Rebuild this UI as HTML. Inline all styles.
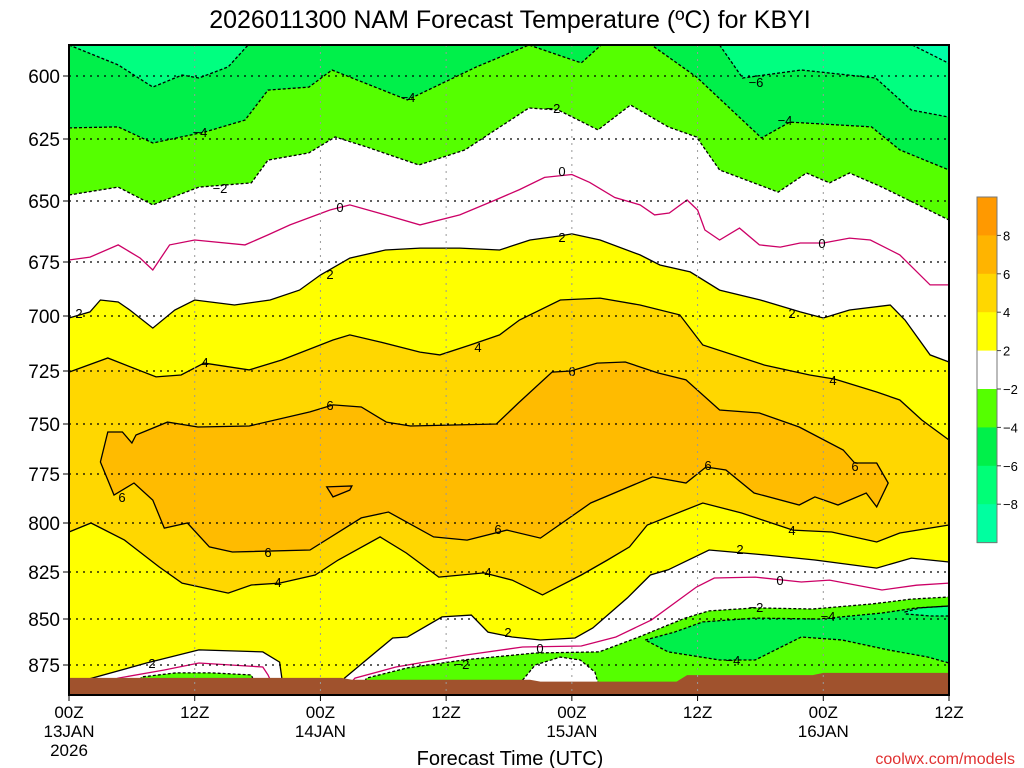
<!DOCTYPE html>
<html><head><meta charset="utf-8"><style>
html,body{margin:0;padding:0;background:#fff;}
svg{display:block;font-family:"Liberation Sans","DejaVu Sans",sans-serif;}
</style></head><body>
<svg id="chart" width="1024" height="768" viewBox="0 0 1024 768" xmlns="http://www.w3.org/2000/svg">
<text x="510" y="28" font-size="25" text-anchor="middle" fill="#000">2026011300 NAM Forecast Temperature (ºC) for KBYI</text>
<g id="plot"></g>
<g id="labels" font-size="13" text-anchor="middle"></g>
<g id="axes"></g>
<g id="legend"></g>
<text x="510" y="765" font-size="20" text-anchor="middle">Forecast Time (UTC)</text>
<text x="1015" y="764" font-size="16" text-anchor="end" fill="#e03030">coolwx.com/models</text>
</svg>
<script>
// axis calibration
const pTicks = [600,625,650,675,700,725,750,775,800,825,850,875];
const hTicks = [0,12,24,36,48,60,72,84];
const hTickLabels = [["00Z","13JAN","2026"],["12Z"],["00Z","14JAN"],["12Z"],["00Z","15JAN"],["12Z"],["00Z","16JAN"],["12Z"]];
// contour data: hours since 00Z 13JAN and pressure (hPa)
const cM8_h = [80.5,84];
const cM8_p = [586,595];
const cM6a_h = [0,4.7,8.0,10.8,12.4,15.2,17.1];
const cM6a_p = [587,595.6,604.4,599.6,600.8,596.4,587];
const cM6b_h = [62.1,64.3,69.9,77.0,80.4,84];
const cM6b_p = [587,600.8,597.6,600.8,613.5,616.3];
const cM4_h = [0,4.7,8.0,13.0,16.8,19.0,22.9,25.1,32.3,38.9,43.9,48.9,50.8,55.6,59.9,66.1,68.8,76.6,79.3,84];
const cM4_p = [620.6,620.2,626.6,622.2,617.5,605.6,604.4,597.6,609.5,596.4,586,594.8,586,586,600.4,624.6,618.3,620.2,629.4,637.5];
const cM2_h = [0,4.7,8.0,12.4,17.4,19.0,22.9,25.4,28.4,33.4,37.8,43.9,46.7,50.5,53.6,57.2,59.9,62.1,67.7,70.4,72.6,74.5,77.6,84];
const cM2_p = [647.6,644.4,651.6,644.4,642.7,633.5,630.6,624.2,628.2,635.5,629.4,612.7,613.5,621.4,611.5,620.2,624.2,637.5,646.4,638.7,642.7,638.7,644.4,657.8];
const c0_h = [0,2.0,4.7,6.8,8.0,9.6,12.0,16.8,19.0,21.1,24.9,26.8,30.2,33.5,37.3,40.7,43.0,45.4,48.0,49.7,52.1,54.5,55.9,57.3,59.0,60.0,60.7,62.1,64.0,65.9,67.9,69.8,72.0,74.5,76.5,79.3,82.2,84];
const c0_p = [674.2,673.0,668.0,673.4,678.7,668.0,666.0,668.0,663.9,659.8,653.7,651.6,655.7,659.8,655.7,649.6,645.4,640.5,639.3,642.5,648.6,651.6,655.7,654.9,649.6,653.7,661.9,666.0,661.1,668.0,668.9,667.2,667.2,665.2,666.0,672.1,685.6,685.6];
const c2_h = [0,2,3,4.7,5.8,8,10.1,12,15.8,19.2,22,24,26.8,30.2,33.5,37.3,41.1,44,46.9,48,50.7,54.5,56.4,59.3,62.1,66,69.8,72,74.5,78.4,79.8,82.2,84];
const c2_p = [700.9,698.1,692.6,693.5,697.2,705.5,697.2,692.6,694.9,692.6,688.0,681.0,673.4,670.1,669.3,669.3,670.1,666.0,664.3,663.5,666.0,672.1,676.4,679.6,688.0,692.6,698.1,700.9,697.2,694.9,701.8,717.7,720.9];
const c4_h = [0,3.7,8.3,10.7,12.9,17.2,20.3,25.2,26.8,29.7,33.5,35.4,38.3,41.1,43.0,46.9,50.7,54.5,58.3,60.5,66.4,70.7,73.1,77.1,79.3,81.4,84];
const c4_p = [725.5,719.1,727.8,726.9,721.4,724.5,720.0,710.9,708.6,711.8,716.4,717.7,713.2,708.6,701.8,692.6,691.7,694.9,699.5,713.2,722.3,726.9,728.8,734.9,738.7,748.1,758.0];
const c6_h = [3.0,3.7,5.1,6.0,6.4,9.4,12.3,17.2,23.0,25.2,27.9,30.3,32.6,40.8,42.9,46.1,47.9,50.4,53.1,56.2,58.9,62.1,65.9,69.7,73.9,75.0,77.1,78.2,77.1,76.1,73.4,71.2,69.7,65.4,62.7,60.8,58.9,55.7,49.8,45.0,41.8,38.0,34.8,30.5,27.9,23.0,15.6,13.4,11.3,9.1,8.0,6.2,4.3];
const c6_p = [769.0,754.0,754.0,759.5,755.5,749.1,751.5,751.0,744.3,741.0,742.0,749.1,751.0,750.0,740.1,725.5,725.0,721.4,720.9,725.9,729.2,743.4,744.8,751.5,763.0,769.5,769.5,779.6,791.8,784.7,790.8,786.7,790.8,784.7,773.0,771.5,779.6,776.5,789.8,807.7,803.6,808.7,807.1,794.4,797.4,813.8,814.8,812.2,800.0,802.6,788.3,779.6,785.7];
const c8_h = [24.6,27.0,26.8,25.2];
const c8_p = [781.6,781.1,783.2,786.7];
const c4L_h = [0,2.1,5.3,8.6,10.8,15.2,17.4,20.1,23.5,25.7,29.7,32.2,35.3,39.6,42.3,45.2,48.9,51.4,53.5,55.2,60.5,64.2,69.1,72.8,77.1,79.3,84];
const c4L_p = [804.6,800.0,808.7,822.4,830.9,836.2,831.9,830.9,826.6,818.9,807.1,815.3,827.7,825.5,829.3,837.2,826.6,818.9,812.2,801.0,789.8,794.9,803.6,804.6,809.7,805.1,801.0];
const c2L_h = [0,1.9,7.4,12.4,18.5,20.1,20.5,25.9,26.3,30.9,32.3,35.6,38.4,40.0,42.3,45.0,48.3,50.0,53.3,55.5,57.2,61.1,66.4,71.2,77.1,80.4,84];
const c2L_p = [889.7,882.6,873.9,866.8,867.9,873.4,889.7,889.7,882.1,860.3,859.8,848.9,847.9,857.1,859.8,861.4,860.3,854.9,838.8,826.6,823.9,813.8,816.3,818.9,823.0,817.9,819.9];
const c0La_h = [3.0,4.7,9.1,12.4,18.5,19.0,19.4];
const c0La_p = [885.3,882.1,877.7,873.9,876.1,880.4,885.3];
const c0Lb_h = [26.8,27.3,31.2,37.8,43.3,48.9,52.2,55.6,59.9,61.6,65.5,69.9,72.6,77.6,80.9,84];
const c0Lb_p = [885.3,882.1,876.1,869.6,865.2,864.7,859.8,850.5,833.0,828.2,827.7,830.3,829.3,834.6,832.0,830.9];
const cM2L_h = [27.8,28.4,32.3,37.8,44.5,50.6,54.4,58.8,61.1,65.5,71.0,76.6,80.4,84];
const cM2L_p = [888.6,882.1,876.6,872.2,868.5,867.9,859.8,849.5,845.7,844.1,844.7,842.0,839.4,838.3];
const cM2La_h = [6.6,6.9,10.2,13.6,17.4,18.0];
const cM2La_p = [888.6,881.5,879.3,879.3,880.4,888.6];
const cHump_h = [43.1,43.3,44.5,46.9,48.8,50.2,50.7];
const cHump_p = [888.6,883.2,875.0,870.7,872.3,878.8,888.6];
const cM4L_h = [55.0,57.8,60.5,65.5,71.6,77.6,80.9,84,84,82.0,78.2,73.8,69.9,65.5,62.1,57.2];
const cM4L_p = [861.4,857.1,851.6,849.5,850.0,846.8,844.1,843.1,873.9,870.7,866.8,861.4,859.8,872.3,872.3,867.9];
const cM6L_h = [79.8,81.2,84,84,82.2,79.8];
const cM6L_p = [846.3,844.1,843.1,848.4,848.4,847.3];
const sfc_h = [0,26,27,44,45,58,59,71,72,84];
const sfc_p = [882,882,883,883,884,884,880.5,880.5,879.3,879.3];
const legendLabels = ["8","6","4","2","\u22122","\u22124","\u22126","\u22128"];
const legendColors = ["#ff9900","#ffb400","#ffd700","#ffff00","#ffffff","#55ff00","#00f04a","#00ff77","#00ffa0"];

// layout
const L=69,R=949,T=45,B=695;
const yT = [76,139,201,262,316,371,424,474,523,572,619,665];
function X(h){return L + h*(R-L)/84;}
function Y(p){
  let i=0;
  if(p<=pTicks[0]) i=0; else if(p>=pTicks[pTicks.length-1]) i=pTicks.length-2;
  else { while(p>pTicks[i+1]) i++; }
  return yT[i] + (p-pTicks[i])*(yT[i+1]-yT[i])/(pTicks[i+1]-pTicks[i]);
}
const NS="http://www.w3.org/2000/svg";
const plot=document.getElementById('plot');
function el(tag,attrs,parent){const e=document.createElementNS(NS,tag);for(const k in attrs)e.setAttribute(k,attrs[k]);(parent||plot).appendChild(e);return e;}
function pts(hs,ps){return hs.map((h,i)=>[X(h),Math.min(Math.max(Y(ps[i]),T),B)]);}
function str(a){return a.map(q=>q[0].toFixed(1)+','+q[1].toFixed(1)).join(' ');}
function fillAbove(hs,ps,color,name){
  const a=pts(hs,ps); a.push([a[a.length-1][0],T]); a.push([a[0][0],T]);
  const e=el('polygon',{points:str(a),fill:color});
  
  
}
function fillBelow(hs,ps,color,name){
  const a=pts(hs,ps); a.push([a[a.length-1][0],B]); a.push([a[0][0],B]);
  const e=el('polygon',{points:str(a),fill:color});
  
  
}
function fillClosed(hs,ps,color,name){
  const e=el('polygon',{points:str(pts(hs,ps)),fill:color});
  
  
}
function line(hs,ps,color,dash,name,closed){
  const e=el(closed?'polygon':'polyline',{points:str(pts(hs,ps)),fill:'none',stroke:color,'stroke-width':1.3});
  if(dash) e.setAttribute('stroke-dasharray','3,2');
  
  
}
// base
const bg=el('rect',{x:L,y:T,width:R-L,height:B-T,fill:'#ffff00'});


// gold band between upper 4 and lower 4
{const a=pts(c4_h,c4_p).concat(pts(c4L_h,c4L_p).reverse());
 const e=el('polygon',{points:str(a),fill:'#ffd700'});
 
 }
fillClosed(c6_h,c6_p,'#ffbb00','band-6-to-8');
fillClosed(c8_h,c8_p,'#ffa800','small-warm-pocket');
fillAbove(c2_h,c2_p,'#ffffff','band-minus2-to-2-upper');
fillAbove(cM2_h,cM2_p,'#55ff00','band-minus4-to-minus2-upper');
fillAbove(cM4_h,cM4_p,'#00f04a','band-minus6-to-minus4-upper');
fillAbove(cM6a_h,cM6a_p,'#00ff80','band-minus8-to-minus6-left');
fillAbove(cM6b_h,cM6b_p,'#00ff80','band-minus8-to-minus6-right');
fillAbove(cM8_h,cM8_p,'#00ffa8','band-below-minus8');
fillBelow(c2L_h,c2L_p,'#ffffff','band-minus2-to-2-lower');
fillBelow(cM2L_h,cM2L_p,'#55ff00','band-minus4-to-minus2-lower');
fillClosed(cM2La_h,cM2La_p,'#55ff00','lime-pocket-left');
fillClosed(cHump_h,cHump_p,'#ffffff','white-hump');
fillClosed(cM4L_h,cM4L_p,'#00f04a','band-minus6-to-minus4-lower');
fillClosed(cM6L_h,cM6L_p,'#00ff80','cold-pocket-right');
// contour lines
line(cM8_h,cM8_p,'#000',true,'contour-minus8');
line(cM6a_h,cM6a_p,'#000',true,'contour-minus6-left');
line(cM6b_h,cM6b_p,'#000',true,'contour-minus6-right');
line(cM4_h,cM4_p,'#000',true,'contour-minus4-upper');
line(cM2_h,cM2_p,'#000',true,'contour-minus2-upper');
line(c0_h,c0_p,'#cc0066',false,'contour-0-upper');
line(c2_h,c2_p,'#000',false,'contour-2-upper');
line(c4_h,c4_p,'#000',false,'contour-4-upper');
line(c6_h,c6_p,'#000',false,'contour-6',true);
line(c8_h,c8_p,'#000',false,'contour-6-pocket',true);
line(c4L_h,c4L_p,'#000',false,'contour-4-lower');
line(c2L_h,c2L_p,'#000',false,'contour-2-lower');
line(c0La_h,c0La_p,'#cc0066',false,'contour-0-lower-left');
line(c0Lb_h,c0Lb_p,'#cc0066',false,'contour-0-lower');
line(cM2L_h,cM2L_p,'#000',true,'contour-minus2-lower');
line(cM2La_h,cM2La_p,'#000',true,'contour-minus2-pocket');
line(cHump_h,cHump_p,'#000',true,'contour-minus2-hump');
line(cM4L_h,cM4L_p,'#000',true,'contour-minus4-lower',true);
line(cM6L_h,cM6L_p,'#000',true,'contour-minus6-lower',true);
// ground
{const a=pts(sfc_h,sfc_p); a.push([R,B]); a.push([L,B]);
 const e=el('polygon',{points:str(a),fill:'#a0522d'});
 
 }
// grid + axes
const axes=document.getElementById('axes');
pTicks.forEach(p=>{
  const g=el('line',{x1:L,x2:R,y1:Y(p),y2:Y(p),stroke:'#000','stroke-width':1.2,'stroke-dasharray':'2,5'},axes);
  
  
  const t=el('line',{x1:L-6,x2:L,y1:Y(p),y2:Y(p),stroke:'#000'},axes);
  
  
  const tx=el('text',{x:L-9,y:Y(p)+7,'font-size':19,'text-anchor':'end'},axes);
  tx.textContent=p;
  
  
});
hTicks.forEach((h,i)=>{
  if(h>0&&h<84){const g=el('line',{x1:X(h),x2:X(h),y1:T,y2:B,stroke:'#999','stroke-width':1,'stroke-dasharray':'2,5'},axes);
  
  }
  const t=el('line',{x1:X(h),x2:X(h),y1:B,y2:B+6,stroke:'#000'},axes);
  
  
  hTickLabels[i].forEach((s,j)=>{
    const tx=el('text',{x:X(h),y:B+23+j*19,'font-size':17,'text-anchor':'middle'},axes);
    tx.textContent=s;
    
    
  });
});
const fr=el('rect',{x:L,y:T,width:R-L,height:B-T,fill:'none',stroke:'#000','stroke-width':2},axes);


// contour labels (annotation positions)
const lab=document.getElementById('labels');
[[756,87,"\u22126"],[200,137,"\u22124"],[408,102,"\u22124"],[785,125,"\u22124"],[220,193,"\u22122"],[553,113,"\u22122"],
 [340,212,"0"],[562,176,"0"],[822,248,"0"],[79,318,"2"],[330,279,"2"],[562,242,"2"],[792,318,"2"],
 [205,367,"4"],[478,352,"4"],[833,385,"4"],[330,410,"6"],[572,376,"6"],[122,502,"6"],[268,557,"6"],
 [498,534,"6"],[708,470,"6"],[855,471,"6"],[278,587,"4"],[488,577,"4"],[792,535,"4"],[152,668,"2"],
 [508,637,"2"],[740,554,"2"],[540,653,"0"],[780,585,"0"],[462,669,"\u22122"],[756,612,"\u22122"],
 [828,621,"\u22124"],[733,665,"\u22124"]].forEach(d=>{
  const t=el('text',{x:d[0],y:d[1]},lab);
  t.textContent=d[2];
  
  
});
// legend
const leg=document.getElementById('legend');
const lx=977,ly=197,lh=38.4;
legendColors.forEach((c,i)=>{
  const r=el('rect',{x:lx,y:ly+i*lh,width:20,height:lh+0.5,fill:c},leg);
  
  
});
const lb=el('rect',{x:lx,y:ly,width:20,height:lh*9,fill:'none',stroke:'#777'},leg);


legendLabels.forEach((s,i)=>{
  const y=ly+(i+1)*lh;
  const tk=el('line',{x1:lx+20,x2:lx+24,y1:y,y2:y,stroke:'#444'},leg);
  
  
  const t=el('text',{x:lx+26,y:y+5,'font-size':13},leg);
  t.textContent=s;
  
  
});
</script>
</body></html>
